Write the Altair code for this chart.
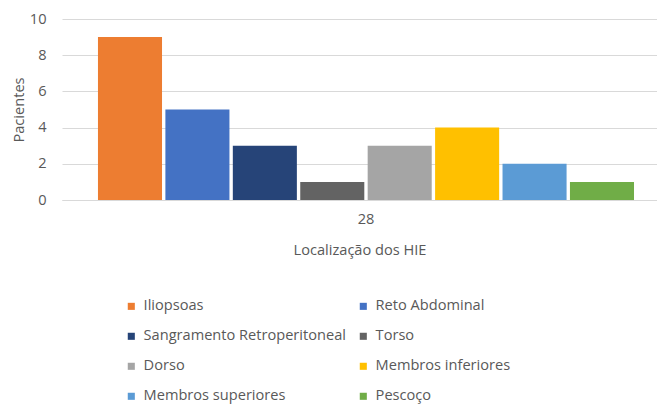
import altair as alt
import pandas as pd

series = ["Iliopsoas", "Reto Abdominal", "Sangramento Retroperitoneal", "Torso",
          "Dorso", "Membros inferiores", "Membros superiores", "Pescoço"]
values = [9, 5, 3, 1, 3, 4, 2, 1]
colors = ["#ED7D31", "#4472C4", "#264478", "#636363",
          "#A5A5A5", "#FFC000", "#5B9BD5", "#70AD47"]
category = "28"

df = pd.DataFrame({"local": [category] * len(series), "serie": series, "valor": values})

txt = "#595959"
font = "Open Sans"
fs = 14.6

chart = alt.Chart(df).mark_bar().encode(
    x=alt.X("local:N", title="Localização dos HIE",
            scale=alt.Scale(paddingInner=0, paddingOuter=0.055, align=0.61),
            axis=alt.Axis(labelAngle=0, domainColor="#d9d9d9", ticks=False,
                          labelColor=txt, labelFontSize=fs, labelFont=font, labelPadding=11,
                          titleColor=txt, titleFontSize=fs, titleFont=font,
                          titleFontWeight="normal", titlePadding=17)),
    xOffset=alt.XOffset("serie:N", sort=series, scale=alt.Scale(paddingInner=0.05)),
    y=alt.Y("valor:Q", title="Pacientes",
            scale=alt.Scale(domain=[0, 10]),
            axis=alt.Axis(values=[0, 2, 4, 6, 8, 10], domain=False, ticks=False,
                          gridColor="#d9d9d9", labelColor=txt, labelFontSize=fs,
                          labelFont=font, labelPadding=16,
                          titleColor=txt, titleFontSize=fs, titleFont=font,
                          titleFontWeight="normal", titlePadding=3)),
    color=alt.Color("serie:N", sort=series,
                    scale=alt.Scale(domain=series, range=colors),
                    legend=alt.Legend(title=None, orient="none", legendX=62, legendY=280,
                                      columns=2, symbolType="square", symbolSize=50,
                                      symbolStrokeWidth=0, labelFont=font, labelFontSize=fs,
                                      labelColor=txt, rowPadding=15, columnPadding=10,
                                      labelOffset=5, labelLimit=400,
                                      direction="horizontal")),
).properties(
    width=595, height=181,
    autosize=alt.AutoSizeParams(type="none"),
    padding={"left": 54, "top": 11, "right": 0, "bottom": 206},
).configure_view(stroke=None).configure_axisX(grid=False)

chart.save("out.html", embed_options={"renderer": "svg", "actions": False})
